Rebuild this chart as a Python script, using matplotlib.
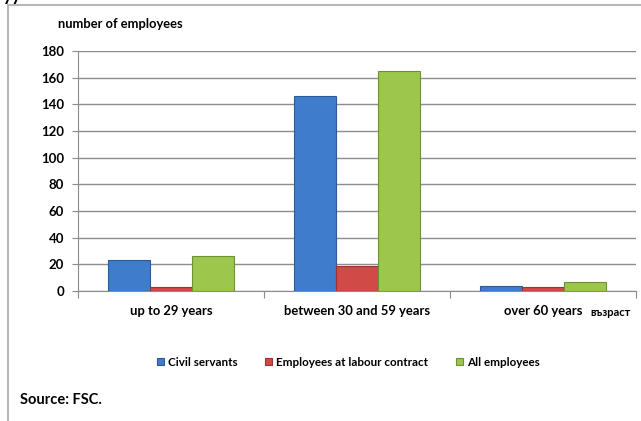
import matplotlib
matplotlib.use("Agg")
import matplotlib.pyplot as plt
from matplotlib.lines import Line2D
import numpy as np

categories = ["up to 29 years", "between 30 and 59 years", "over 60 years"]
series_names = ["Civil servants", "Employees at labour contract", "All employees"]
civil_servants = [23, 146, 4]
labour_contract = [3, 19, 3]
all_employees = [26, 165, 7]
y_ticks = [0, 20, 40, 60, 80, 100, 120, 140, 160, 180]

colors = ["#3f7ccc", "#d04a47", "#9cc74c"]
edges = ["#2c5a96", "#9a3431", "#6f9033"]

W, H = 641, 421
fig = plt.figure(figsize=(W / 100, H / 100), dpi=100)
plt.rcParams["font.family"] = ["Lato", "DejaVu Sans"]

def fx(px):
    return px / W

def fy(py):
    return 1 - py / H

# outer chart frame
fig.add_artist(Line2D([fx(8), fx(8)], [fy(5), fy(H + 5)], color="#b8b8b8", lw=1.5))
fig.add_artist(Line2D([fx(8), fx(W + 5)], [fy(5), fy(5)], color="#b8b8b8", lw=1.5))

# heading fragment running off the top edge
fig.text(fx(3), fy(1), "уу", fontsize=13, fontweight="bold", color="black",
         ha="left", va="baseline")

ax = fig.add_axes([fx(78), fy(291), fx(636) - fx(78), fy(51) - fy(291)])
x = np.arange(len(categories))
bw = 0.2275
for i, vals in enumerate([civil_servants, labour_contract, all_employees]):
    ax.bar(x + (i - 1) * bw, vals, width=bw, color=colors[i], edgecolor=edges[i],
           linewidth=0.8, zorder=3, label=series_names[i])

ax.set_xlim(-0.5, 2.5)
ax.set_ylim(0, 180)
ax.set_yticks(y_ticks)
ax.set_yticklabels([str(v) for v in y_ticks], fontsize=9.5, fontweight="bold")
ax.yaxis.grid(True, color="#8c8c8c", lw=1.0, zorder=0)
ax.set_axisbelow(True)
for s in ["top", "right"]:
    ax.spines[s].set_visible(False)
ax.spines["left"].set_color("#8c8c8c")
ax.spines["bottom"].set_color("#8c8c8c")
ax.tick_params(axis="y", length=4, color="#8c8c8c", pad=6)
ax.set_xticks([-0.5, 0.5, 1.5, 2.5])
ax.set_xticklabels([])
ax.tick_params(axis="x", length=5, color="#8c8c8c")

for xi, lab in zip(x, categories):
    ax.text(xi, -0.083, lab, transform=ax.get_xaxis_transform(), ha="center",
            va="center", fontsize=9.4, fontweight="bold")

fig.text(fx(590), fy(312), "възраст", fontsize=8, fontweight="bold", ha="left", va="center")
fig.text(fx(58), fy(24), "number of employees", fontsize=9.25, fontweight="bold",
         ha="left", va="center")

leg = fig.legend(loc="center", bbox_to_anchor=(fx(348.5), fy(362)), ncol=3, frameon=False,
                 handlelength=0.57, handleheight=0.57, handletextpad=0.37,
                 columnspacing=2.4, borderpad=0, prop={"weight": "bold", "size": 8.4})

fig.text(fx(20), fy(400), "Source: FSC.", fontsize=10.5, fontweight="bold", ha="left", va="center")

fig.savefig("out.png", dpi=100)
